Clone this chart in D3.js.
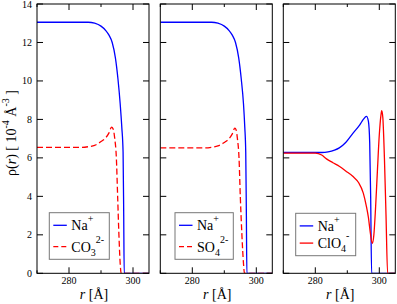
<!DOCTYPE html>
<html>
<head>
<meta charset="utf-8">
<script src="https://cdn.jsdelivr.net/npm/d3@7"></script>
<style>
  body { margin: 0; background: #fff; }
</style>
</head>
<body>
<div id="chart"></div>
<script>
// data (r in Angstrom, rho in 1e-4 A^-3)
const naCo3R = [270, 286, 288, 290, 291.5, 292.5, 293.5, 294.5, 295.3, 296, 296.5, 296.9, 297.1, 297.25, 305];
const naCo3V = [13.05, 13.05, 13.0, 12.85, 12.62, 12.38, 12.0, 11.2, 10.1, 8.8, 7.6, 6.3, 3.0, 0, 0];
const co3R = [270, 284, 286, 288, 290, 291.5, 292.5, 293.3, 293.8, 294.3, 294.8, 295.2, 295.6, 296.0, 296.3, 305];
const co3V = [6.55, 6.55, 6.58, 6.65, 6.85, 7.05, 7.3, 7.6, 7.5, 7.0, 6.0, 4.0, 2.0, 0.5, 0, 0];

const naSo4R = [270, 286, 288, 290, 291.5, 292.5, 293.5, 294.5, 295.3, 296, 296.4, 296.7, 296.9, 297.05, 305];
const naSo4V = [13.05, 13.05, 13.0, 12.85, 12.62, 12.38, 12.0, 11.2, 10.1, 8.8, 7.6, 6.3, 3.0, 0, 0];
const so4R = [270, 284, 286, 288, 290, 291.5, 292.5, 293.3, 293.7, 294.1, 294.6, 295.0, 295.5, 296.0, 296.3, 305];
const so4V = [6.52, 6.52, 6.55, 6.62, 6.8, 7.0, 7.25, 7.55, 7.45, 7.0, 6.0, 4.0, 2.0, 0.5, 0, 0];

const naClo4R = [270, 282, 284, 286, 287.5, 289.5, 291.8, 293.9, 295.0, 296.0, 296.6, 297.0, 297.3, 297.6, 305];
const naClo4V = [6.28, 6.28, 6.31, 6.4, 6.52, 6.8, 7.29, 7.72, 8.0, 8.16, 7.9, 6.8, 4.0, 0, 0];
const clo4R = [270, 280, 282, 283.5, 285.5, 287.6, 289.5, 291.8, 293.5, 295.0, 296.0, 296.6, 297.2, 297.8, 298.3, 298.8, 299.4, 300.0, 300.5, 300.75, 301.1, 301.6, 302.1, 302.6, 305];
const clo4V = [6.25, 6.25, 6.15, 5.95, 5.75, 5.55, 5.32, 5.03, 4.72, 4.17, 3.45, 2.9, 2.1, 1.56, 2.0, 3.3, 5.3, 7.2, 8.2, 8.45, 8.1, 6.0, 3.0, 0, 0];

const xTicks = [280, 300];
const xMinor = [270, 290];
const yTicks = [0, 2, 4, 6, 8, 10, 12, 14];

const panels = [
  { left: 37, series: [
      { name: "Na", sup: "+", sub: "", r: naCo3R, v: naCo3V, color: "#0000ff", dash: null },
      { name: "CO", sub: "3", sup: "2-", r: co3R, v: co3V, color: "#ff0000", dash: "6,3" }],
    legend: { x: 12.3, y: 212.7, w: 60, h: 46.6 } },
  { left: 160.3, series: [
      { name: "Na", sup: "+", sub: "", r: naSo4R, v: naSo4V, color: "#0000ff", dash: null },
      { name: "SO", sub: "4", sup: "2-", r: so4R, v: so4V, color: "#ff0000", dash: "6,3" }],
    legend: { x: 14.7, y: 212.7, w: 58.3, h: 46.6 } },
  { left: 283.3, series: [
      { name: "Na", sup: "+", sub: "", r: naClo4R, v: naClo4V, color: "#0000ff", dash: null },
      { name: "ClO", sub: "4", sup: "-", r: clo4R, v: clo4V, color: "#ff0000", dash: null }],
    legend: { x: 12.4, y: 213.3, w: 60, h: 42.4 } }
];

const W = 397, H = 304;
const plotTop = 4, plotBottom = 273.3, pw = 112;

const svg = d3.select("#chart").append("svg")
  .attr("width", W).attr("height", H)
  .attr("font-family", "'Liberation Serif', 'Times New Roman', 'DejaVu Serif', serif");

const y = d3.scaleLinear().domain([0, 14]).range([plotBottom, plotTop]);

panels.forEach((p, i) => {
  const x = d3.scaleLinear().domain([270, 305]).range([p.left, p.left + pw]);
  const g = svg.append("g");

  const clipId = "clip" + i;
  svg.append("clipPath").attr("id", clipId)
    .append("rect").attr("x", p.left).attr("y", plotTop).attr("width", pw).attr("height", plotBottom - plotTop);

  // curves
  p.series.forEach(s => {
    const pts = s.r.map((r, k) => [r, s.v[k]]);
    g.append("path")
      .datum(pts)
      .attr("clip-path", `url(#${clipId})`)
      .attr("fill", "none")
      .attr("stroke", s.color)
      .attr("stroke-width", 1.3)
      .attr("stroke-dasharray", s.dash)
      .attr("d", d3.line().x(d => x(d[0])).y(d => y(d[1])).curve(d3.curveMonotoneX));
  });

  // ticks (inward, all four sides)
  const ax = g.append("g").attr("stroke", "#000").attr("stroke-width", 1);
  xTicks.forEach(t => {
    ax.append("line").attr("x1", x(t)).attr("x2", x(t)).attr("y1", plotBottom).attr("y2", plotBottom - 6);
    ax.append("line").attr("x1", x(t)).attr("x2", x(t)).attr("y1", plotTop).attr("y2", plotTop + 6);
  });
  xMinor.forEach(t => {
    ax.append("line").attr("x1", x(t)).attr("x2", x(t)).attr("y1", plotBottom).attr("y2", plotBottom - 3);
    ax.append("line").attr("x1", x(t)).attr("x2", x(t)).attr("y1", plotTop).attr("y2", plotTop + 3);
  });
  yTicks.forEach(t => {
    ax.append("line").attr("x1", p.left).attr("x2", p.left + 6).attr("y1", y(t)).attr("y2", y(t));
    ax.append("line").attr("x1", p.left + pw - 6).attr("x2", p.left + pw).attr("y1", y(t)).attr("y2", y(t));
  });

  g.append("rect")
    .attr("x", p.left).attr("y", plotTop).attr("width", pw).attr("height", plotBottom - plotTop)
    .attr("fill", "none").attr("stroke", "#000").attr("stroke-width", 1);

  // x tick labels
  g.selectAll("text.xt").data(xTicks).join("text")
    .attr("class", "xt")
    .attr("x", d => x(d)).attr("y", plotBottom + 11)
    .attr("text-anchor", "middle").attr("font-size", 10)
    .text(d => d);

  // x axis title
  const xt = g.append("text")
    .attr("x", p.left + 57).attr("y", 299)
    .attr("text-anchor", "middle").attr("font-size", 14);
  xt.append("tspan").attr("font-style", "italic").text("r");
  xt.append("tspan").text(" [Å]");

  // y tick labels, first panel only
  if (i === 0) {
    g.selectAll("text.yt").data(yTicks).join("text")
      .attr("class", "yt")
      .attr("x", p.left - 5).attr("y", d => y(d) + 3.5)
      .attr("text-anchor", "end").attr("font-size", 10)
      .text(d => d);
  }

  // legend
  const L = p.legend;
  const lg = g.append("g").attr("transform", `translate(${p.left + L.x},${L.y})`);
  lg.append("rect").attr("width", L.w).attr("height", L.h)
    .attr("fill", "#fff").attr("stroke", "#777").attr("stroke-width", 1);
  const rowY = [12.6, L.h - 12.6];
  p.series.forEach((s, k) => {
    lg.append("line")
      .attr("x1", 4).attr("x2", 17.5).attr("y1", rowY[k]).attr("y2", rowY[k])
      .attr("stroke", s.color).attr("stroke-width", 1.3)
      .attr("stroke-dasharray", s.dash ? "5,3" : null);
    const t = lg.append("text").attr("x", 22).attr("y", rowY[k] + 5).attr("font-size", 14);
    t.append("tspan").text(s.name);
    if (s.sub) {
      t.append("tspan").attr("font-size", 10).attr("dy", 4).text(s.sub);
      t.append("tspan").attr("font-size", 10).attr("dy", -13).text(s.sup);
    } else {
      t.append("tspan").attr("font-size", 10).attr("dy", -8).text(s.sup);
    }
  });
});

// y axis title
const yl = svg.append("text")
  .attr("transform", "translate(16,133) rotate(-90)")
  .attr("text-anchor", "middle").attr("font-size", 14);
yl.append("tspan").text("ρ(");
yl.append("tspan").attr("font-style", "italic").text("r");
yl.append("tspan").text(") [ 10");
yl.append("tspan").attr("font-size", 10).attr("dy", -7).text("-4");
yl.append("tspan").attr("dy", 7).text(" Å");
yl.append("tspan").attr("font-size", 10).attr("dy", -7).text("-3");
yl.append("tspan").attr("dy", 7).text(" ]");
</script>
</body>
</html>
